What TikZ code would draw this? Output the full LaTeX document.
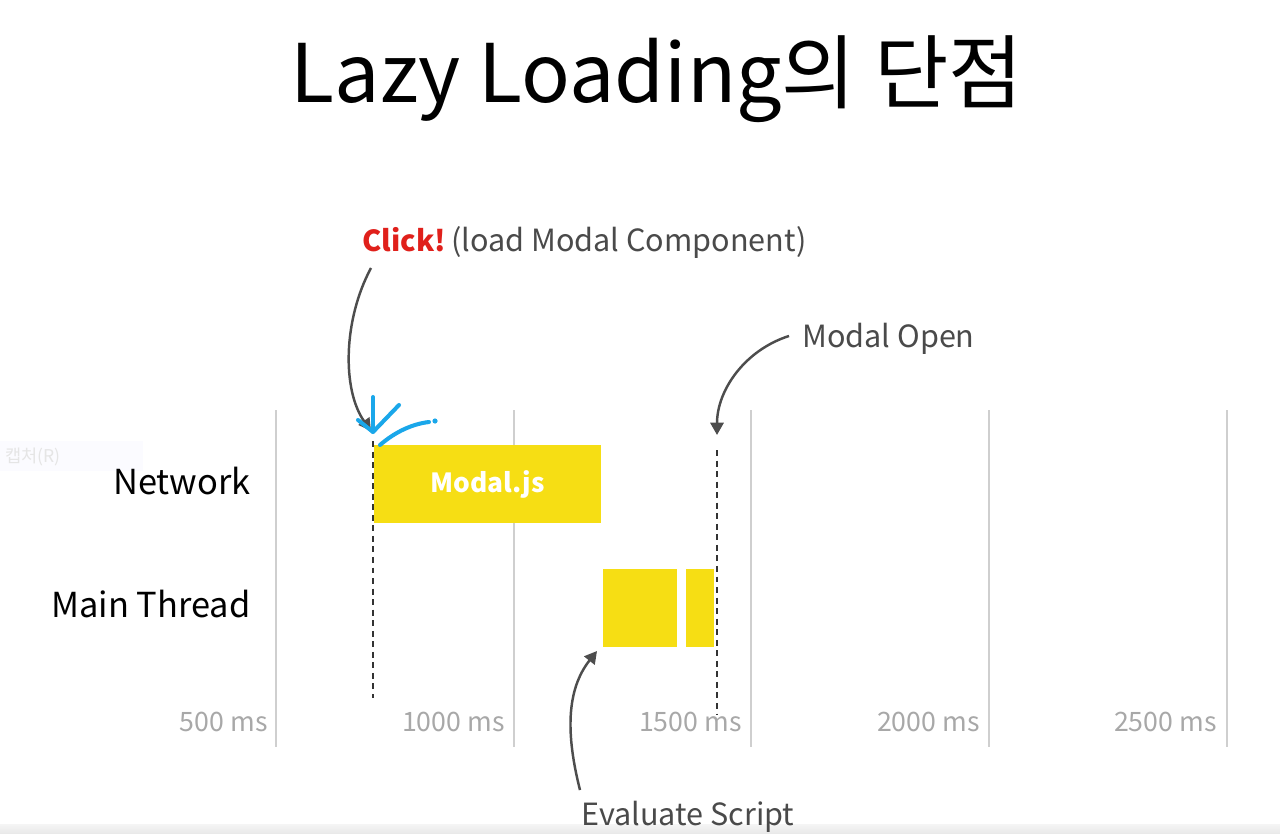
\documentclass[tikz,border=0pt]{standalone}
\usepackage{fontspec}
\setmainfont{Noto Sans CJK KR}
\usetikzlibrary{arrows.meta}
\definecolor{jsyellow}{HTML}{F6DE14}
\definecolor{arrowgray}{HTML}{4D4D4D}
\definecolor{gridgray}{HTML}{CFCFCF}
\definecolor{axisgray}{HTML}{A8A8A8}
\definecolor{clickred}{HTML}{E0201B}
\definecolor{penblue}{HTML}{1AA7EA}
\definecolor{labelgray}{HTML}{4A4A4A}
\definecolor{dashcol}{HTML}{333333}
\tikzset{
  gridline/.style={draw=gridgray, line width=0.85pt},
  axislabel/.style={anchor=base east, text=axisgray, font=\fontsize{15.2}{18}\selectfont, inner sep=0pt},
  rowlabel/.style={anchor=base east, text=black, font=\fontsize{19.6}{24}\selectfont, inner sep=0pt},
  annot/.style={text=labelgray, font=\fontsize{17.4}{21}\selectfont, inner sep=0pt},
  yblock/.style={fill=jsyellow, draw=none, inner sep=0pt},
  marker/.style={draw=dashcol, line width=1.1pt, dash pattern=on 3.4pt off 2.6pt},
  pointer/.style={draw=arrowgray, line width=1.4pt, -{Triangle[length=7pt,width=7.5pt]}},
  pen/.style={draw=penblue, line width=2.3pt, line cap=round, line join=round},
}
\begin{document}
\begin{tikzpicture}[x=0.02cm,y=-0.02cm]
\useasboundingbox (0,0) rectangle (1280,834);
\fill[white] (0,0) rectangle (1280,834);
% bottom strip and faint capture box
\shade[top color=white!96!black, bottom color=white!91!black] (0,824) rectangle (1280,834);
\fill[white!96!blue!40!white] (0,441) rectangle (143,471);
\node[anchor=west, text=black!10, font=\fontsize{10}{12}\selectfont, inner sep=0pt] (cap) at (5,457) {캡처(R)};

% title
\node[anchor=base, inner sep=0pt, font=\fontsize{46}{56}\selectfont] (title) at (657,103) {Lazy Loading의 단점};

% grid lines
\foreach \x/\n in {276/g1,514/g2,751/g3,989/g4,1227/g5}{
  \coordinate (\n top) at (\x,410);
  \coordinate (\n bot) at (\x,747);
  \draw[gridline] (\n top) -- (\n bot);
}
% axis labels
\node[axislabel] (t500) at (268,731) {500 ms};
\node[axislabel] (t1000) at (505,731) {1000 ms};
\node[axislabel] (t1500) at (742,731) {1500 ms};
\node[axislabel] (t2000) at (980,731) {2000 ms};
\node[axislabel] (t2500) at (1217,731) {2500 ms};

% row labels
\node[rowlabel] (network) at (251,494) {Network};
\node[rowlabel] (mainthread) at (251,617) {Main Thread};

% blocks
\node[yblock, minimum width=227*0.02cm, minimum height=78*0.02cm, text=white, font=\bfseries\fontsize{15}{18}\selectfont] (modaljs) at (487.5,484) {Modal.js};
\node[yblock, minimum width=74*0.02cm, minimum height=78*0.02cm] (eval1) at (640,608) {};
\node[yblock, minimum width=28*0.02cm, minimum height=78*0.02cm] (eval2) at (700,608) {};

% dashed markers
\coordinate (clickTop) at (373,441);
\coordinate (clickBot) at (373,698);
\coordinate (openTop) at (717,450);
\coordinate (openBot) at (717,715);
\draw[marker] (clickTop) -- (clickBot);
\draw[marker] (openTop) -- (openBot);

% annotations
\node[anchor=base west, inner sep=0pt, font=\bfseries\fontsize{16.5}{20}\selectfont, text=clickred] (click) at (362,252) {Click!};
\node[annot, anchor=base west] (loadlabel) at (451,252) {(load Modal Component)};
\node[annot, anchor=base west] (modalopen) at (802,347) {Modal Open};
\node[annot, anchor=base] (evalscript) at (688,825) {Evaluate Script};

% pointer arrows
\coordinate (clickStart) at (371,268);
\coordinate (clickTip) at (371,431);
\coordinate (openStart) at (789,336);
\coordinate (openTip) at (717,435);
\coordinate (evalStart) at (580,790);
\coordinate (evalTip) at (597,651);
\draw[pointer] (clickStart) .. controls (343,320) and (342,390) .. (clickTip);
\draw[pointer] (openStart) .. controls (745,350) and (717,390) .. (openTip);
\draw[pointer] (evalStart) .. controls (566,735) and (566,690) .. (evalTip);

% handwritten pen marks
\coordinate (penA) at (373,397);
\coordinate (penB) at (373,432);
\coordinate (penC) at (358,420);
\coordinate (penD) at (399,405);
\coordinate (penE) at (380,445);
\coordinate (penF) at (429,422);
\coordinate (penG) at (435,421);
\draw[pen] (penA) -- (penB);
\draw[pen] (penC) -- (penB) -- (penD);
\draw[pen] (penE) .. controls (395,432) and (412,424) .. (penF);
\fill[penblue] (penG) circle (2.6);
\end{tikzpicture}
\end{document}
